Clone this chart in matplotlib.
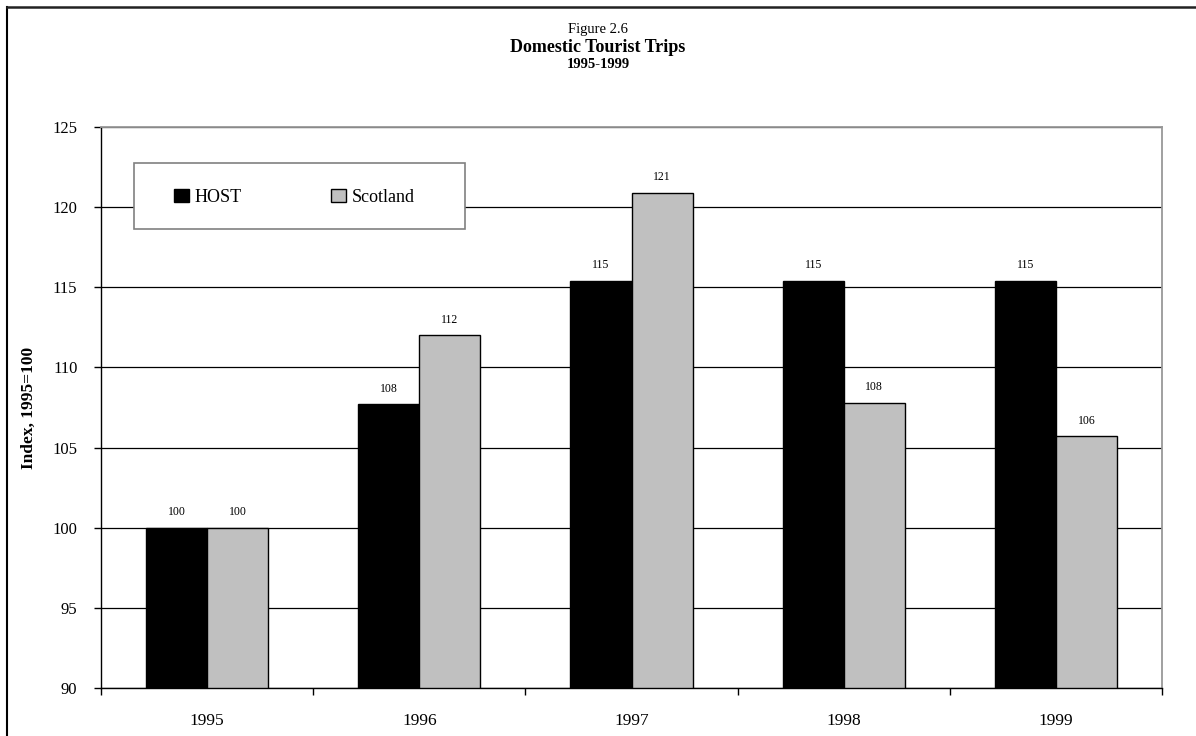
import matplotlib.pyplot as plt
import numpy as np
from matplotlib.patches import Rectangle
from matplotlib.lines import Line2D

years = ["1995", "1996", "1997", "1998", "1999"]
host = [100, 107.7, 115.4, 115.4, 115.4]
scotland = [100, 112.0, 120.9, 107.8, 105.7]
host_labels = ["100", "108", "115", "115", "115"]
scotland_labels = ["100", "112", "121", "108", "106"]

plt.rcParams["font.family"] = ["Liberation Serif", "DejaVu Serif"]

fig = plt.figure(figsize=(11.96, 7.36), dpi=100)
ax = fig.add_axes([101 / 1196, 48 / 736, 1061 / 1196, 561 / 736])

x = np.arange(len(years))
w = 0.288
ax.bar(x - w / 2, np.array(host) - 90, w, bottom=90, color="black",
       edgecolor="black", linewidth=1, label="HOST", zorder=3)
ax.bar(x + w / 2, np.array(scotland) - 90, w, bottom=90, color="#c0c0c0",
       edgecolor="black", linewidth=1, label="Scotland", zorder=3)

# value labels above bars
for xi, v, t in zip(x - w / 2, host, host_labels):
    ax.annotate(t, (xi, v), xytext=(0, 7), textcoords="offset points",
                ha="center", va="bottom", fontsize=8.5)
for xi, v, t in zip(x + w / 2, scotland, scotland_labels):
    ax.annotate(t, (xi, v), xytext=(0, 7), textcoords="offset points",
                ha="center", va="bottom", fontsize=8.5)

ax.set_xlim(-0.5, 4.5)
ax.set_ylim(90, 125)
ax.set_yticks(range(90, 126, 5))
ax.yaxis.grid(True, color="black", linewidth=0.9, zorder=0)
ax.set_axisbelow(True)

ax.set_xticks(x)
ax.set_xticklabels(years, fontsize=12.5)
ax.set_xticks(np.arange(-0.5, 5, 1), minor=True)
ax.tick_params(axis="x", which="major", length=0, pad=18)
ax.tick_params(axis="x", which="minor", length=5, width=1, direction="out")
ax.tick_params(axis="y", length=5, width=1, direction="out", labelsize=12, pad=12)

for s in ["left", "bottom"]:
    ax.spines[s].set_color("black")
    ax.spines[s].set_linewidth(1)
for s in ["top", "right"]:
    ax.spines[s].set_color("#999999")
    ax.spines[s].set_linewidth(1.3)

ax.set_ylabel("Index, 1995=100", fontsize=12.5, fontweight="bold", labelpad=11)

# legend box
ax.add_patch(Rectangle((0.0311, 0.818), 0.312, 0.118, transform=ax.transAxes,
                       facecolor="white", edgecolor="#808080", linewidth=1.2,
                       zorder=4))
leg = ax.legend(loc="center left", bbox_to_anchor=(0.0688, 0.875), ncol=2,
                frameon=False, fontsize=13, handlelength=0.83, handleheight=0.75,
                handletextpad=0.33, borderaxespad=0, borderpad=0,
                columnspacing=4.9)
leg.set_zorder(5)

fig.text(0.5, 1 - 30 / 736, "Figure 2.6", ha="center", va="center", fontsize=10.5)
fig.text(0.5, 1 - 47 / 736, "Domestic Tourist Trips", ha="center", va="center",
         fontsize=13, fontweight="bold")
fig.text(0.5, 1 - 64 / 736, "1995-1999", ha="center", va="center",
         fontsize=10.5, fontweight="bold")

# outer frame (only top and left edges visible)
fig.add_artist(Line2D([7 / 1196, 7 / 1196], [0, 1 - 7 / 736],
                      transform=fig.transFigure, color="black", linewidth=1.5))
fig.add_artist(Line2D([7 / 1196, 1], [1 - 7 / 736, 1 - 7 / 736],
                      transform=fig.transFigure, color="#222222", linewidth=1.8))

fig.savefig("out.png", dpi=100)
